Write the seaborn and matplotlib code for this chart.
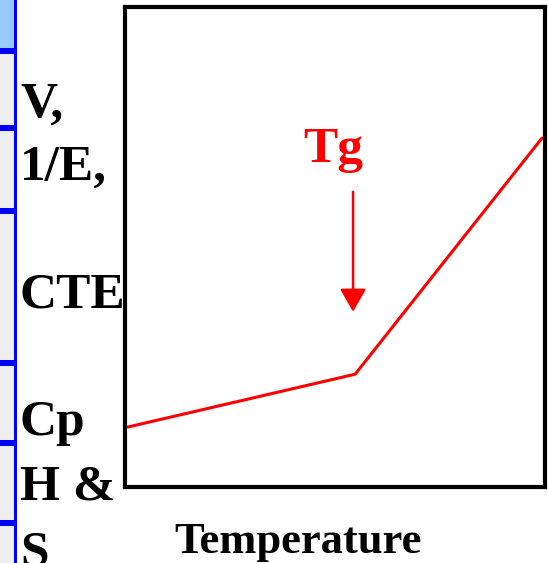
import matplotlib
matplotlib.use('Agg')
import matplotlib.pyplot as plt
from matplotlib.patches import Rectangle
import pandas as pd
import seaborn as sns

# Data (axes units 0-100)
temperature = [0.7, 54.8, 99.3]
property_value = [12.5, 23.5, 72.7]
tg_x = 54.3
tg_arrow_y = [61.5, 36.5]

# left-hand labels and their baselines (pixels from top)
side_labels = ['V,', '1/E,', 'CTE', 'Cp', 'H &', 'S']
side_baselines = [117, 180, 307, 435, 500, 565]

# left UI strip
row_lines = [51, 128, 211, 363, 443, 523]

W, H = 548, 563

sns.set_style('white')
plt.rcParams['font.family'] = ['Liberation Serif', 'DejaVu Serif']
plt.rcParams['font.weight'] = 'bold'

fig = plt.figure(figsize=(W / 100, H / 100), dpi=100)
fig.patch.set_facecolor('white')


def fx(px):
    return px / W


def fy(py):
    return 1 - py / H


# left strip of cells
fig.add_artist(Rectangle((0, 0), fx(14), 1, transform=fig.transFigure,
                         facecolor='#EEEEEE', edgecolor='none', zorder=1))
fig.add_artist(Rectangle((0, fy(49)), fx(14), 49 / H, transform=fig.transFigure,
                         facecolor='#99C9FF', edgecolor='none', zorder=1))
for y in row_lines:
    fig.add_artist(Rectangle((0, fy(y + 3)), fx(16), 6 / H, transform=fig.transFigure,
                             facecolor='#0000FF', edgecolor='none', zorder=2))
fig.add_artist(Rectangle((fx(14), 0), fx(3), 1, transform=fig.transFigure,
                         facecolor='#0000FF', edgecolor='none', zorder=2))

ax = fig.add_axes([fx(125), fy(487), fx(420), 480 / H])
df = pd.DataFrame({'Temperature': temperature, 'Property': property_value})
sns.lineplot(data=df, x='Temperature', y='Property', ax=ax, color='red', linewidth=2.2)
ax.set_xlim(0, 100)
ax.set_ylim(0, 100)
ax.set_xticks([])
ax.set_yticks([])
ax.set_xlabel('')
ax.set_ylabel('')
for s in ax.spines.values():
    s.set_visible(True)
    s.set_color('black')
    s.set_linewidth(3)

# Tg marker
ax.annotate('', xy=(tg_x, tg_arrow_y[1]), xytext=(tg_x, tg_arrow_y[0]),
            arrowprops=dict(arrowstyle='-|>,head_length=0.7,head_width=0.4',
                            mutation_scale=20, color='red', lw=1.8,
                            shrinkA=0, shrinkB=0))
fig.text(fx(333), fy(162), 'Tg', color='red', fontsize=37, fontweight='bold',
         ha='center', va='baseline')

# labels
for lab, b in zip(side_labels, side_baselines):
    fig.text(fx(20), fy(b), lab, fontsize=37, fontweight='bold',
             ha='left', va='baseline', color='black', zorder=5)
fig.text(fx(298), fy(553), 'Temperature', fontsize=32, fontweight='bold',
         ha='center', va='baseline', color='black')

fig.savefig('out.png', dpi=100)
